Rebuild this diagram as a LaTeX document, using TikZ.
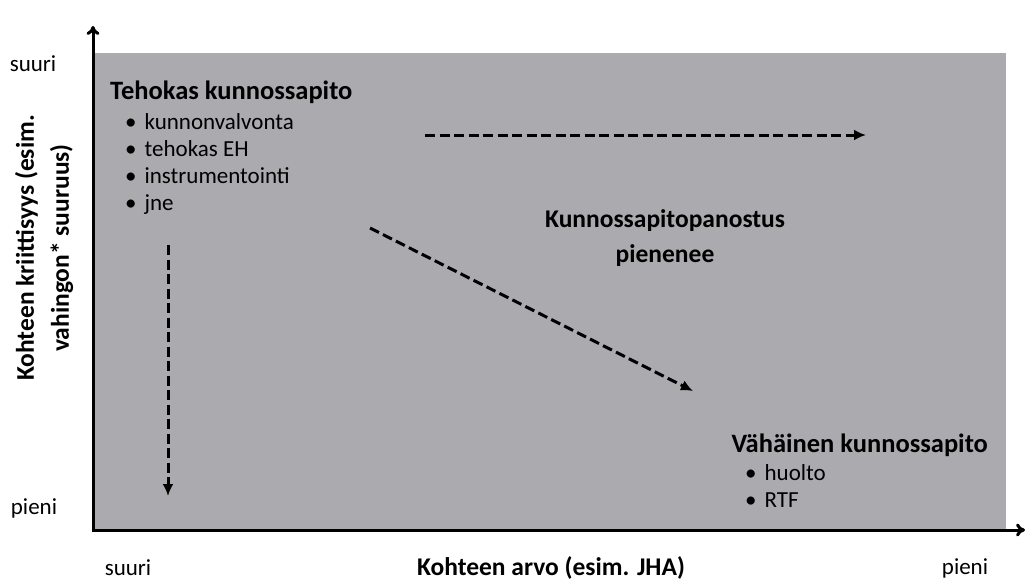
\documentclass[tikz,border=0pt]{standalone}
\usepackage{fontspec}
\setmainfont{Carlito}
\usetikzlibrary{arrows.meta}
\definecolor{colorfield}{HTML}{ABABAF}

\begin{document}
\begin{tikzpicture}[x=1pt,y=-1pt,
    txt/.style={font=\fontsize{23}{27}\selectfont, inner sep=0pt},
    bold/.style={inner sep=0pt, font=\fontsize{25.5}{35}\selectfont\bfseries},
    head/.style={inner sep=0pt, font=\fontsize{26.5}{30}\selectfont\bfseries},
    trend/.style={line width=3pt, dash pattern=on 10pt off 4.5pt, -{Latex[length=12pt,width=11pt]}}]
    \useasboundingbox (0,0) rectangle (1027,583);
    \fill[colorfield] (95,53) rectangle (1006,529);
    % axes
    \draw[line width=3pt, -{To[length=9pt,width=13pt]}] (93,532) -- (93,26);
    \draw[line width=3pt, -{To[length=9pt,width=13pt]}] (91.5,530) -- (1025,530);
    % axis texts
    \node[txt] (ytop) at (33,64) {suuri};
    \node[txt] (ybot) at (34,508) {pieni};
    \node[txt] (xleft) at (128,568) {suuri};
    \node[txt] (xright) at (965,568) {pieni};
    \node[bold] (xlabel) at (551,568) {Kohteen arvo (esim. JHA)};
    \node[bold, rotate=90, align=center] (ylabel) at (44,248)
        {Kohteen kriittisyys (esim.\\ vahingon* suuruus)};
    % quadrant texts
    \node[head, anchor=west] (tehokas) at (110,92) {Tehokas kunnossapito};
    \node[txt, anchor=north west, align=left] (tehokasList) at (125,113)
        {\textbullet\hspace{8pt}kunnonvalvonta\\
         \textbullet\hspace{8pt}tehokas EH\\
         \textbullet\hspace{8pt}instrumentointi\\
         \textbullet\hspace{8pt}jne};
    \node[bold, align=center] (panostus) at (665,238)
        {Kunnossapitopanostus\\ pienenee};
    \node[head, anchor=east] (vahainen) at (988,445) {Vähäinen kunnossapito};
    \node[txt, anchor=north west, align=left] (vahainenList) at (745,464)
        {\textbullet\hspace{8pt}huolto\\
         \textbullet\hspace{8pt}RTF};
    % trend arrows
    \coordinate (h1) at (425,135);
    \coordinate (h2) at (866,135);
    \coordinate (v1) at (168,245);
    \coordinate (v2) at (168,496);
    \coordinate (d1) at (370,228);
    \coordinate (d2) at (693,391);
    \draw[trend] (h1) -- (h2);
    \draw[trend] (v1) -- (v2);
    \draw[trend] (d1) -- (d2);
\end{tikzpicture}
\end{document}
